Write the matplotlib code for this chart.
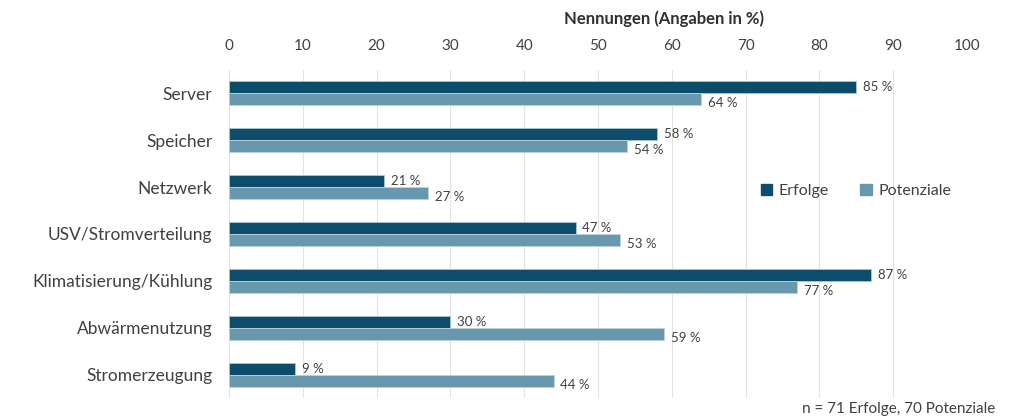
import numpy as np
import matplotlib.pyplot as plt
from matplotlib.patches import Patch

plt.rcParams['font.family'] = ['Lato', 'DejaVu Sans']

kategorien = ["Server", "Speicher", "Netzwerk", "USV/Stromverteilung",
              "Klimatisierung/Kühlung", "Abwärmenutzung", "Stromerzeugung"]
erfolge = [85, 58, 21, 47, 87, 30, 9]
potenziale = [64, 54, 27, 53, 77, 59, 44]
ticks = np.arange(0, 101, 10)

c_dunkel = "#0b4d6b"
c_hell = "#6898ad"
c_text = "#404040"

fig = plt.figure(figsize=(10.2, 4.17), dpi=100)
ax = fig.add_axes([0.2245, 0.0444, 0.7235, 0.7889])

y = np.arange(len(kategorien))
h = 0.26
ax.barh(y - h / 2, erfolge, height=h, color=c_dunkel, edgecolor="#a9c6d3", linewidth=0.6, zorder=3)
ax.barh(y + h / 2, potenziale, height=h, color=c_hell, edgecolor="#bcd3dd", linewidth=0.6, zorder=3)

# Werte rechts neben den Balken
for yi, e, p in zip(y, erfolge, potenziale):
    ax.text(e + 0.9, yi - h / 2 + 0.0, f"{e} %", fontsize=9.5, color=c_text, va="center", ha="left", zorder=4)
    ax.text(p + 0.9, yi + h / 2 + 0.08, f"{p} %", fontsize=9.5, color=c_text, va="center", ha="left", zorder=4)

ax.set_xlim(0, 100)
ax.set_ylim(len(kategorien) - 0.5, -0.5)
ax.set_xticks(ticks)
ax.xaxis.tick_top()
ax.tick_params(axis="x", length=0, pad=12, labelsize=11, labelcolor=c_text)
ax.set_yticks(y)
ax.set_yticklabels(kategorien)
ax.tick_params(axis="y", length=0, pad=12, labelsize=12.5, labelcolor=c_text)
ax.grid(axis="x", color="#e3e3e3", linewidth=0.8, zorder=0)
for s in ax.spines.values():
    s.set_visible(False)

fig.text(0.651, 0.955, "Nennungen (Angaben in %)", fontsize=12, fontweight="bold",
         color="#303030", ha="center", va="center")

handles = [Patch(color=c_dunkel, label="Erfolge"), Patch(color=c_hell, label="Potenziale")]
fig.legend(handles=handles, loc="center", bbox_to_anchor=(0.839, 0.542), ncol=2, frameon=False,
           fontsize=11.5, handlelength=0.7, handleheight=0.7, handletextpad=0.4, columnspacing=2.0,
           labelcolor=c_text)

fig.text(0.976, 0.02, "n = 71 Erfolge, 70 Potenziale", fontsize=11, color=c_text, ha="right", va="center")

fig.savefig("out.png", dpi=100)
